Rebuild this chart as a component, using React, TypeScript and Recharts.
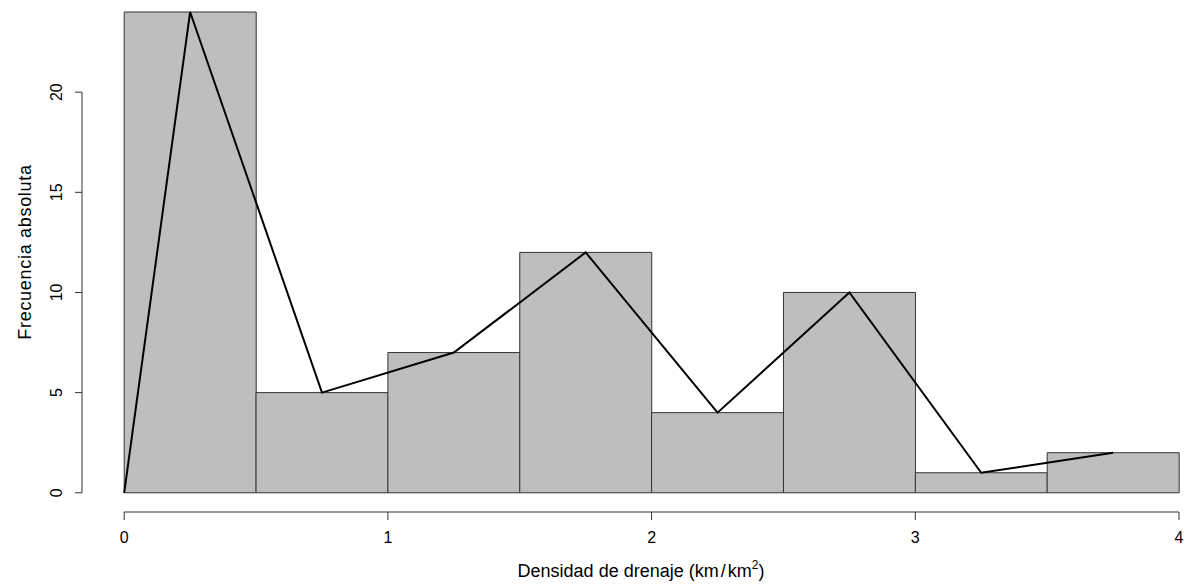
import React from 'react';
import { ComposedChart, Bar, Line, XAxis, YAxis, ReferenceLine } from 'recharts';

// histograma: clases de 0.5 km/km2
const binStarts = [0, 0.5, 1, 1.5, 2, 2.5, 3, 3.5];
const binWidth = 0.5;
const counts = [24, 5, 7, 12, 4, 10, 1, 2];

// poligono de frecuencias (marcas de clase)
const polyX = [0, 0.25, 0.75, 1.25, 1.75, 2.25, 2.75, 3.25, 3.75];
const polyY = [0, 24, 5, 7, 12, 4, 10, 1, 2];

const xTicks = [0, 1, 2, 3, 4];
const yTicks = [0, 5, 10, 15, 20];

const xDomain = [-0.16, 4.072];
const yDomain = [-0.96, 24.6];

const bins = binStarts.map((s, i) => ({ mid: s + binWidth / 2, count: counts[i] }));
const polygon = polyX.map((x, i) => ({ x, y: polyY[i] }));

const font = '"Liberation Sans", Arial, Helvetica, sans-serif';

function YTick({ x, y, payload }: any) {
  const cx = x - 16;
  return (
    <text x={cx} y={y} transform={`rotate(-90, ${cx}, ${y})`} textAnchor="middle" dominantBaseline="central"
      fontSize={16} fontFamily={font} fill="#000">
      {payload.value}
    </text>
  );
}

function XTick({ x, y, payload }: any) {
  return (
    <text x={x} y={y + 21} textAnchor="middle" fontSize={16} fontFamily={font} fill="#000">
      {payload.value}
    </text>
  );
}

function XTitle() {
  return (
    <text x={641} y={577} textAnchor="middle" fontSize={18} fontFamily={font} fill="#000">
      Densidad de drenaje (km
      <tspan dx={2}>/</tspan>
      <tspan dx={2}>km</tspan>
      <tspan dy={-8} fontSize={12}>2</tspan>
      <tspan dy={8}>)</tspan>
    </text>
  );
}

function YTitle() {
  return (
    <text x={31} y={252} transform="rotate(-90, 31, 252)" textAnchor="middle" fontSize={18} letterSpacing={0.7}
      fontFamily={font} fill="#000">
      Frecuencia absoluta
    </text>
  );
}

export default function App() {
  return (
    <div style={{ position: 'absolute', left: 0, top: 0, width: 1186, height: 586, overflow: 'hidden', background: '#fff' }}>
      <ComposedChart width={1210} height={586} data={bins} barCategoryGap={0} barGap={0}
        margin={{ top: 0, right: 12, bottom: 0, left: 0 }}>
        <XAxis xAxisId="x" type="number" dataKey="x" domain={xDomain} allowDataOverflow ticks={xTicks}
          height={74} axisLine={false} tickSize={8} tickLine={{ stroke: '#333' }} tick={<XTick />}
          label={<XTitle />} />
        <XAxis xAxisId="bins" type="number" dataKey="mid" domain={xDomain} allowDataOverflow orientation="top" height={0} hide />
        <YAxis type="number" domain={yDomain} allowDataOverflow ticks={yTicks} width={82}
          axisLine={false} tickSize={7} tickLine={{ stroke: '#333' }} tick={<YTick />} label={<YTitle />} />
        <Bar xAxisId="bins" dataKey="count" fill="#bebebe" stroke="#333" strokeWidth={1} isAnimationActive={false} />
        <Line xAxisId="x" data={polygon} dataKey="y" type="linear" stroke="#000" strokeWidth={2} dot={false}
          isAnimationActive={false} />
        <ReferenceLine xAxisId="x" segment={[{ x: 0, y: yDomain[0] }, { x: 4, y: yDomain[0] }]} stroke="#333" ifOverflow="visible" />
        <ReferenceLine xAxisId="x" segment={[{ x: xDomain[0], y: 0 }, { x: xDomain[0], y: 20 }]} stroke="#333" ifOverflow="visible" />
      </ComposedChart>
    </div>
  );
}
